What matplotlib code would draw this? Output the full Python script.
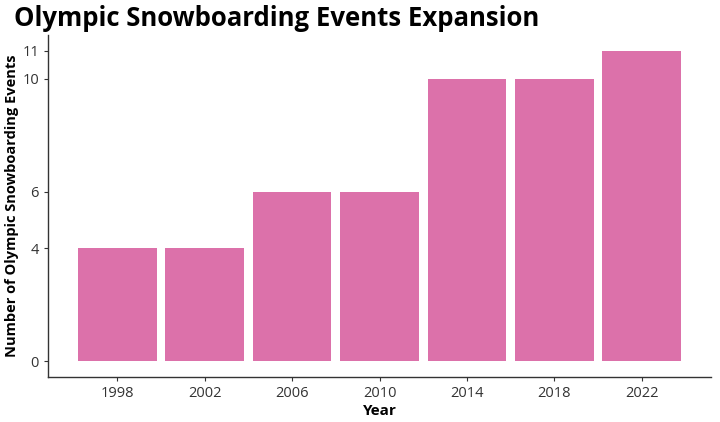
import matplotlib.pyplot as plt

years = [1998, 2002, 2006, 2010, 2014, 2018, 2022]
events = [4, 4, 6, 6, 10, 10, 11]
y_ticks = [0, 4, 6, 10, 11]

plt.rcParams['font.family'] = ['Open Sans', 'DejaVu Sans']

fig = plt.figure(figsize=(7.2, 4.22), dpi=100)
ax = fig.add_axes([48 / 720, 1 - 377 / 422, (711 - 48) / 720, (377 - 35) / 422])

ax.bar(years, events, width=3.6, color='#DC71AA')

ax.set_xlim(1994.82, 2025.18)
ax.set_ylim(-0.55, 11.55)
ax.set_xticks(years)
ax.set_yticks(y_ticks)
ax.tick_params(axis='both', length=3, width=0.8, color='#333333', labelsize=10.5, labelcolor='#333333')

for side in ['top', 'right']:
    ax.spines[side].set_visible(False)
for side in ['left', 'bottom']:
    ax.spines[side].set_color('#333333')
    ax.spines[side].set_linewidth(1.0)

ax.set_xlabel('Year', fontsize=11, fontweight='bold', labelpad=2)
ax.set_ylabel('Number of Olympic Snowboarding Events', fontsize=10.5, fontweight='bold', labelpad=2)
fig.text(14 / 720, 1 - 18 / 422, 'Olympic Snowboarding Events Expansion',
         fontsize=18.5, fontweight='bold', va='center', ha='left')

fig.savefig('out.png', dpi=100)
